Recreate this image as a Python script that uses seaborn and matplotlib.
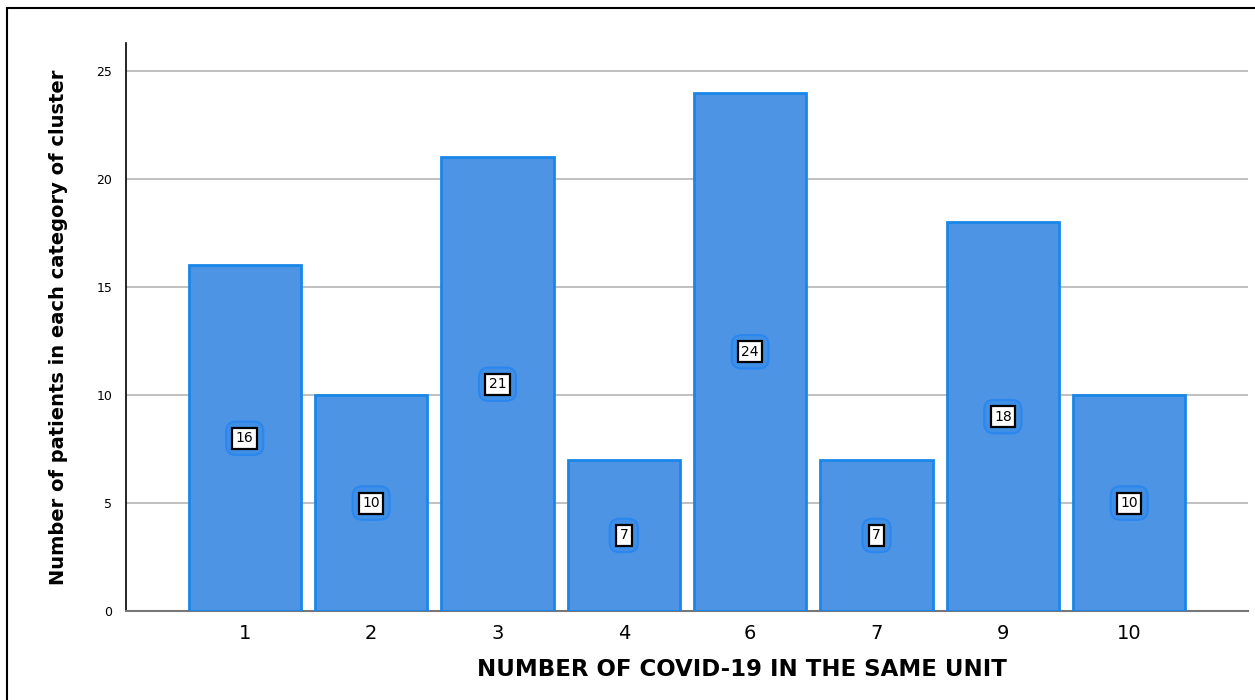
import matplotlib
matplotlib.use("Agg")
import matplotlib.pyplot as plt
import seaborn as sns
import pandas as pd
from matplotlib.patches import Rectangle

categories = ["1", "2", "3", "4", "6", "7", "9", "10"]
patients = [16, 10, 21, 7, 24, 7, 18, 10]

df = pd.DataFrame({"covid": categories, "patients": patients})

sns.set_style("white")
plt.rcParams["font.family"] = ["DejaVu Sans"]
plt.rcParams["text.color"] = "black"
plt.rcParams["axes.labelcolor"] = "black"
plt.rcParams["xtick.color"] = "black"
plt.rcParams["ytick.color"] = "black"

fig = plt.figure(figsize=(12.55, 7), dpi=100)
ax = fig.add_axes([0.1004, 0.1271, 0.894, 0.8115])

sns.barplot(data=df, x="covid", y="patients", order=categories, color="#4d95e4",
            saturation=1, width=0.89, edgecolor="#1a86e8", linewidth=2, ax=ax, zorder=3)

ax.set_xlim(-0.94, len(categories) - 0.06)
ax.set_ylim(0, 26.3)
ax.set_yticks([0, 5, 10, 15, 20, 25])
ax.yaxis.grid(True, color="#b5b5b5", linewidth=1.2, zorder=0)
ax.set_axisbelow(True)

for s in ["top", "right"]:
    ax.spines[s].set_visible(False)
ax.spines["left"].set_color("black")
ax.spines["left"].set_linewidth(1.2)
ax.spines["bottom"].set_color("#777777")
ax.spines["bottom"].set_linewidth(1.5)

ax.tick_params(axis="y", labelsize=9, length=0, pad=10)
ax.tick_params(axis="x", labelsize=14, length=0, pad=9)

ax.set_xlabel("NUMBER OF COVID-19 IN THE SAME UNIT", fontsize=16.5, fontweight="bold")
ax.xaxis.set_label_coords(0.549, -0.082)
ax.set_ylabel("Number of patients in each category of cluster", fontsize=14, fontweight="bold", labelpad=20)

for i, v in enumerate(patients):
    ax.text(i, v / 2, str(v), ha="center", va="center", fontsize=10, color="white", zorder=4,
            bbox=dict(boxstyle="round,pad=0.7", facecolor="#3f8fe6", edgecolor="#2b86ee", linewidth=1.5))
    ax.text(i, v / 2, str(v), ha="center", va="center", fontsize=10, color="black", zorder=5,
            bbox=dict(boxstyle="square,pad=0.25", facecolor="white", edgecolor="black", linewidth=1.6))

# outer frame (cropped figure border)
fig.patches.append(Rectangle((7 / 1255, -0.1), 1.2, 1 - 8 / 700 + 0.1, transform=fig.transFigure,
                             fill=False, edgecolor="black", linewidth=1.5))

fig.savefig("out.png", dpi=100)
